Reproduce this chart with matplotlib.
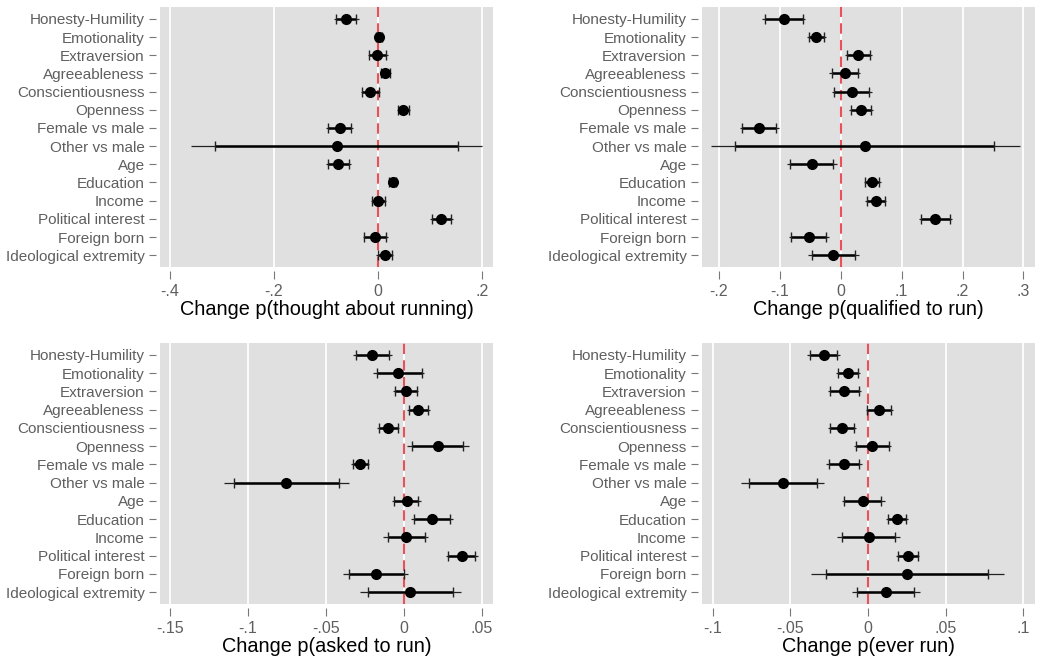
import numpy as np
import matplotlib
matplotlib.use("Agg")
import matplotlib.pyplot as plt

# ===== Data =====
CATEGORIES = [
    "Honesty-Humility", "Emotionality", "Extraversion", "Agreeableness",
    "Conscientiousness", "Openness", "Female vs male", "Other vs male",
    "Age", "Education", "Income", "Political interest", "Foreign born",
    "Ideological extremity",
]

# Change p(thought about running)
thought_est = [-0.061, 0.002, -0.002, 0.013, -0.015, 0.048, -0.074, -0.079, -0.076, 0.028, 0.000, 0.121, -0.005, 0.013]
thought_lo_in = [-0.081, -0.003, -0.017, 0.005, -0.030, 0.038, -0.096, -0.314, -0.097, 0.021, -0.011, 0.103, -0.026, 0.000]
thought_hi_in = [-0.042, 0.007, 0.016, 0.023, 0.001, 0.060, -0.051, 0.154, -0.055, 0.035, 0.013, 0.141, 0.016, 0.026]
thought_lo_out = [-0.084, -0.005, -0.020, 0.003, -0.033, 0.036, -0.100, -0.360, -0.100, 0.019, -0.014, 0.100, -0.029, -0.003]
thought_hi_out = [-0.037, 0.009, 0.019, 0.025, 0.004, 0.062, -0.048, 0.200, -0.052, 0.037, 0.016, 0.144, 0.019, 0.029]

# Change p(qualified to run)
qualified_est = [-0.093, -0.040, 0.029, 0.007, 0.018, 0.033, -0.135, 0.040, -0.047, 0.052, 0.058, 0.155, -0.052, -0.012]
qualified_lo_in = [-0.125, -0.052, 0.010, -0.015, -0.011, 0.016, -0.162, -0.173, -0.084, 0.040, 0.043, 0.131, -0.081, -0.047]
qualified_hi_in = [-0.062, -0.027, 0.048, 0.029, 0.047, 0.049, -0.106, 0.251, -0.012, 0.063, 0.072, 0.179, -0.025, 0.023]
qualified_lo_out = [-0.129, -0.055, 0.007, -0.019, -0.015, 0.014, -0.165, -0.214, -0.089, 0.038, 0.040, 0.128, -0.085, -0.054]
qualified_hi_out = [-0.058, -0.024, 0.051, 0.032, 0.051, 0.053, -0.102, 0.294, -0.007, 0.066, 0.075, 0.182, -0.020, 0.030]

# Change p(asked to run)
asked_est = [-0.0204, -0.0036, 0.0013, 0.0092, -0.0101, 0.0215, -0.0283, -0.0755, 0.0017, 0.0178, 0.0013, 0.0371, -0.0180, 0.0039]
asked_lo_in = [-0.0311, -0.0172, -0.0058, 0.0034, -0.0161, 0.0054, -0.0330, -0.1088, -0.0062, 0.0064, -0.0105, 0.0279, -0.0354, -0.0230]
asked_hi_in = [-0.0094, 0.0114, 0.0082, 0.0152, -0.0041, 0.0378, -0.0234, -0.0418, 0.0092, 0.0296, 0.0135, 0.0457, 0.0000, 0.0311]
asked_lo_out = [-0.0330, -0.0197, -0.0069, 0.0021, -0.0176, 0.0021, -0.0341, -0.1152, -0.0079, 0.0043, -0.0133, 0.0268, -0.0391, -0.0283]
asked_hi_out = [-0.0080, 0.0131, 0.0092, 0.0167, -0.0030, 0.0414, -0.0223, -0.0354, 0.0107, 0.0311, 0.0152, 0.0474, 0.0028, 0.0365]

# Change p(ever run)
ever_est = [-0.0285, -0.0129, -0.0152, 0.0073, -0.0167, 0.0026, -0.0157, -0.0549, -0.0034, 0.0187, 0.0004, 0.0255, 0.0251, 0.0116]
ever_lo_in = [-0.0376, -0.0193, -0.0242, -0.0006, -0.0242, -0.0077, -0.0253, -0.0768, -0.0152, 0.0127, -0.0167, 0.0191, -0.0268, -0.0071]
ever_hi_in = [-0.0200, -0.0064, -0.0056, 0.0148, -0.0088, 0.0133, -0.0056, -0.0328, 0.0086, 0.0247, 0.0172, 0.0320, 0.0770, 0.0298]
ever_lo_out = [-0.0393, -0.0206, -0.0258, -0.0013, -0.0258, -0.0092, -0.0268, -0.0818, -0.0167, 0.0116, -0.0200, 0.0180, -0.0367, -0.0103]
ever_hi_out = [-0.0182, -0.0054, -0.0045, 0.0161, -0.0077, 0.0150, -0.0041, -0.0281, 0.0107, 0.0258, 0.0208, 0.0330, 0.0873, 0.0333]

# x-axis ticks per panel
thought_ticks = [-0.4, -0.2, 0.0, 0.2]
thought_labels = ["-.4", "-.2", "0", ".2"]
qualified_ticks = [-0.2, -0.1, 0.0, 0.1, 0.2, 0.3]
qualified_labels = ["-.2", "-.1", "0", ".1", ".2", ".3"]
asked_ticks = [-0.15, -0.1, -0.05, 0.0, 0.05]
asked_labels = ["-.15", "-.1", "-.05", "0", ".05"]
ever_ticks = [-0.1, -0.05, 0.0, 0.05, 0.1]
ever_labels = ["-.1", "-.05", "0", ".05", ".1"]

plt.rcParams["font.family"] = ["Liberation Sans", "DejaVu Sans"]

BG = "#e0e0e0"
LABEL_GREY = "#5f5f5f"


def draw_panel(ax, est, lo_in, hi_in, lo_out, hi_out, ticks, labels, xlim, xlabel):
    y = np.arange(len(CATEGORIES))
    ax.set_facecolor(BG)
    for s in ax.spines.values():
        s.set_visible(False)
    ax.spines["left"].set_position(("outward", 3))
    ax.spines["bottom"].set_position(("outward", 3))

    ax.set_xticks(ticks)
    ax.set_xticklabels(labels)
    ax.set_xlim(*xlim)
    ax.set_yticks(y)
    ax.set_yticklabels(CATEGORIES)
    ax.set_ylim(len(CATEGORIES) - 0.35, -0.65)
    ax.grid(axis="x", color="white", linewidth=1.3)
    ax.set_axisbelow(True)
    ax.tick_params(axis="y", direction="out", length=5, width=0.8, color="#777777",
                   labelcolor=LABEL_GREY, labelsize=11, pad=3)
    ax.tick_params(axis="x", direction="out", length=6, width=0.8, color="#777777",
                   labelcolor=LABEL_GREY, labelsize=11.5, pad=3)

    ax.axvline(0, color="#ea5058", linewidth=1.5, dashes=(5, 3), zorder=2)
    ax.hlines(y, lo_out, hi_out, color="#222222", linewidth=0.9, zorder=3)
    ax.hlines(y, lo_in, hi_in, color="black", linewidth=1.8, zorder=3)
    ax.plot(lo_in, y, "|", color="#222222", markersize=7, mew=1.0, zorder=3)
    ax.plot(hi_in, y, "|", color="#222222", markersize=7, mew=1.0, zorder=3)
    ax.plot(est, y, "o", color="black", markersize=7, zorder=4)
    ax.set_xlabel(xlabel, fontsize=14.3, color="black", labelpad=1)


fig = plt.figure(figsize=(10.37, 6.57), dpi=100)
W, H = 1037, 657
ax1 = fig.add_axes([160 / W, 1 - 267 / H, 333 / W, 260 / H])
ax2 = fig.add_axes([702 / W, 1 - 267 / H, 333 / W, 260 / H])
ax3 = fig.add_axes([160 / W, 1 - 604 / H, 333 / W, 261 / H])
ax4 = fig.add_axes([702 / W, 1 - 604 / H, 333 / W, 261 / H])

draw_panel(ax1, thought_est, thought_lo_in, thought_hi_in, thought_lo_out, thought_hi_out,
           thought_ticks, thought_labels, (-0.419, 0.221), "Change p(thought about running)")
draw_panel(ax2, qualified_est, qualified_lo_in, qualified_hi_in, qualified_lo_out, qualified_hi_out,
           qualified_ticks, qualified_labels, (-0.228, 0.319), "Change p(qualified to run)")
draw_panel(ax3, asked_est, asked_lo_in, asked_hi_in, asked_lo_out, asked_hi_out,
           asked_ticks, asked_labels, (-0.1564, 0.057), "Change p(asked to run)")
draw_panel(ax4, ever_est, ever_lo_in, ever_hi_in, ever_lo_out, ever_hi_out,
           ever_ticks, ever_labels, (-0.1069, 0.1075), "Change p(ever run)")

fig.savefig("out.png", dpi=100)
